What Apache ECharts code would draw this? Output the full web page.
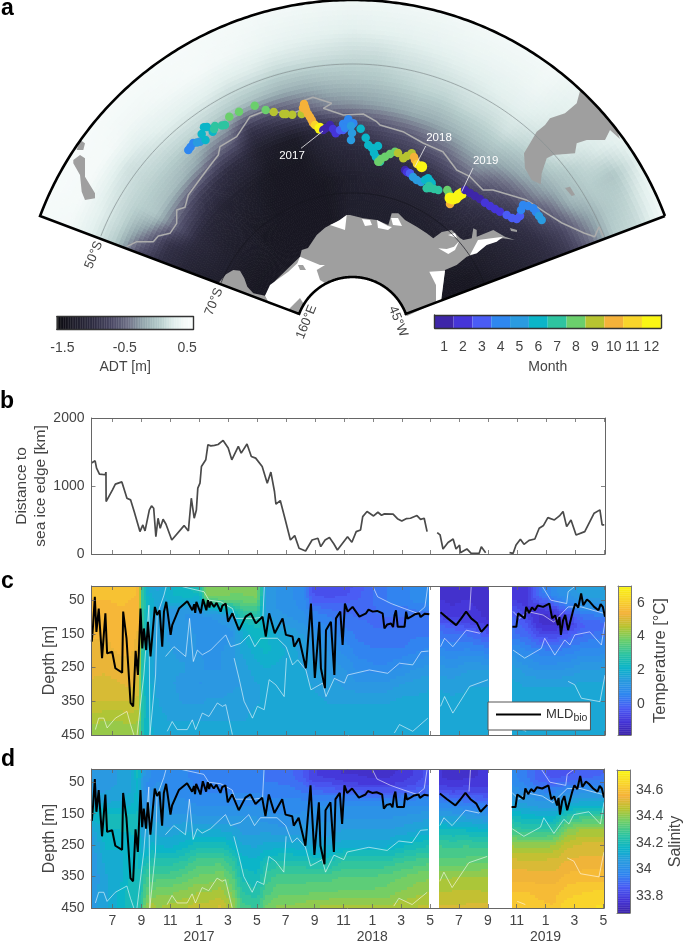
<!DOCTYPE html>
<html><head><meta charset="utf-8">
<style>html,body{margin:0;padding:0;background:#fff}#c{width:685px;height:941px}</style>
<script src="https://cdn.jsdelivr.net/npm/echarts@6/dist/echarts.min.js"></script>
</head><body><div id="c"></div>
<script>
// ---------- DATA ----------
const monthLabels=['1','2','3','4','5','6','7','8','9','10','11','12'];
const monthTicks=[7,9,11,13,15,17,19,21,23,25,27,29,31,33,35,37,39,41];
const yearOfMonthTick={13:'2017',25:'2018',37:'2019'};
const depthTicks=[50,150,250,350,450];
const distanceTicks=[0,1000,2000];
const tempTicks=[0,2,4,6];
const salTicks=[33.8,34,34.2,34.4,34.6];
const adtTicks=[-1.5,-0.5,0.5];

// distance to sea ice edge [month index, km]
const distance=[[5.55,1337],[5.8,1370],[5.9,1263],[6.1,1175],[6.5,1165],[6.55,1204],[6.56,771],[7,943],[7.2,1027],[7.65,1060],[8,820],[8.25,796],[8.5,624],[8.9,330],[9.1,427],[9.25,339],[9.55,650],[9.7,707],[9.85,673],[10,255],[10.15,526],[10.3,378],[10.5,511],[10.7,437],[11.1,206],[11.95,418],[12.25,339],[12.3,467],[12.45,820],[12.65,526],[12.8,648],[12.9,968],[13.05,1042],[13.15,1287],[13.45,1386],[13.6,1607],[13.8,1590],[14.05,1597],[14.3,1610],[14.65,1670],[15,1558],[15.25,1386],[15.7,1582],[15.9,1484],[16.3,1617],[16.6,1435],[16.9,1410],[17.35,1287],[17.7,1042],[17.95,1204],[18.2,919],[18.3,732],[18.6,786],[18.95,501],[19.3,206],[19.6,270],[19.9,84],[20.35,44],[20.8,206],[21.2,231],[21.4,108],[21.7,206],[22,241],[22.3,150],[22.55,59],[23.25,255],[23.55,172],[23.85,329],[24.15,354],[24.3,550],[24.6,624],[25.05,560],[25.35,614],[25.6,570],[25.8,590],[26.4,585],[26.7,520],[27,486],[27.3,520],[27.6,526],[28.05,565],[28.3,510],[28.55,526],[28.75,329],[29.1,null],[29.45,314],[29.65,280],[29.85,74],[30.2,170],[30.55,221],[30.75,74],[31,133],[31.05,20],[31.5,74],[31.8,10],[32.35,10],[32.5,108],[32.8,20],[33.6,null],[34.45,20],[34.7,10],[34.9,133],[35.2,216],[35.45,142],[35.8,200],[36.2,221],[36.5,378],[36.8,420],[37.1,535],[37.55,501],[37.9,560],[38.15,624],[38.4,403],[38.7,501],[39.05,280],[39.65,329],[40.3,600],[40.7,649],[40.85,427],[41,427]];

// biological mixed layer depth [month index, m]
const mld=[[5.57,173],[5.66,124],[5.78,40],[5.89,144],[6.05,75],[6.28,222],[6.51,89],[6.63,208],[6.98,203],[7.2,252],[7.67,265],[7.74,84],[7.97,163],[8.25,355],[8.43,365],[8.6,200],[8.76,272],[8.94,75],[9.06,193],[9.17,134],[9.33,198],[9.45,114],[9.63,217],[9.93,70],[10.09,94],[10.26,80],[10.44,188],[10.56,84],[10.72,55],[11.02,153],[11.13,124],[11.6,75],[12.17,53],[12.52,80],[12.65,62],[12.72,88],[12.8,55],[13.1,89],[13.26,47],[13.49,80],[13.6,50],[13.7,72],[13.79,55],[14.02,70],[14.2,58],[14.48,84],[14.6,66],[14.83,60],[14.99,114],[15.29,89],[15.75,139],[16.21,99],[16.56,89],[16.91,119],[17.37,99],[17.6,158],[17.83,89],[18.22,148],[18.76,104],[18.99,153],[19.45,158],[19.56,188],[19.9,163],[20.37,252],[20.72,60],[20.99,281],[21.3,114],[21.41,252],[21.69,311],[21.76,139],[22.1,114],[22.34,272],[22.45,104],[22.75,84],[22.91,183],[23.07,60],[23.26,84],[23.6,70],[24.07,99],[24.53,89],[24.7,78],[24.99,84],[25.3,82],[25.68,89],[25.8,134],[26,122],[26.26,119],[26.4,130],[26.5,95],[26.6,80],[26.72,129],[27.19,129],[27.3,84],[27.4,105],[27.65,99],[27.9,92],[28.2,89],[28.3,100],[28.43,99],[28.6,90],[28.9,92],[29.3,null],[29.68,86],[30.18,104],[30.76,124],[31.1,105],[31.45,84],[31.8,104],[32.2,118],[32.5,144],[32.96,122],[33.8,null],[34.65,129],[34.92,129],[35.04,89],[35.5,104],[35.6,70],[35.8,88],[36,72],[36.2,80],[36.4,66],[36.77,70],[37.2,60],[37.4,104],[37.6,95],[37.8,124],[37.9,100],[38,153],[38.15,110],[38.3,94],[38.5,139],[38.85,80],[39,60],[39.2,72],[39.4,30],[39.55,65],[39.8,48],[40,55],[40.3,70],[40.6,80],[40.75,62],[40.9,70],[41.05,99]];

// isopycnals [month index, m]
const isoA=[[11.83,10],[13.33,25],[13.67,50],[14.5,55],[15.3,75],[15.5,104],[16.8,104],[17.4,100],[17.5,8],[17.55,null],[24.99,8],[25.33,40],[26.26,60],[27.19,75],[28.1,89],[28.6,70],[28.8,8],[29.2,null],[31.7,80],[31.8,10],[32,null],[34.7,84],[35.15,104],[35.7,84],[36.77,94],[37.5,115],[38.5,70],[39.4,70],[41.05,90]];
const isoB=[[36.7,8],[37.3,50],[38.4,60],[38.5,25],[39,8]];
const isoC=[[10.67,217],[11.25,188],[12.06,217],[12.33,104],[12.59,232],[12.87,198],[13.21,212],[13.79,198],[14.25,178],[14.83,153],[15.18,188],[15.87,178],[16.45,153],[16.84,188],[17.25,163],[17.72,163],[18.4,163],[19,188],[19.45,242],[19.8,227],[20.37,257],[20.72,316],[21.53,296],[21.76,336],[22.34,282],[23.03,296],[23.26,272],[24.76,257],[26.03,267],[26.84,237],[27.76,242],[28.34,203],[28.85,201],[29.2,null],[29.68,188],[29.96,163],[30.53,188],[31.46,139],[32.38,148],[32.96,124],[33.8,null],[34.69,198],[35.5,222],[36.65,193],[36.88,163],[37.58,213],[38.27,168],[38.62,183],[38.96,153],[40,144],[40.8,183],[41.05,114]];
const isoD=[[15.41,222],[15.75,282],[16.1,350],[16.68,400],[17.02,365],[17.49,375],[17.83,286],[18.29,301],[18.87,336],[19.03,222],[19.2,null],[29.68,365],[29.96,336],[30.53,385],[31.69,306],[32.96,286],[33.8,null],[38.5,291],[38.96,301],[39.42,341],[40.7,351],[41.05,272]];
const isoE=[[5.82,434],[6.05,400],[6.4,400],[6.63,429],[7.2,400],[8,380],[8.25,419],[8.48,450],[8.6,null],[10.79,439],[11.13,410],[11.48,434],[12.17,434],[12.52,405],[12.75,434],[13.21,385],[13.67,395],[14.25,355],[14.6,365],[14.83,360],[15.29,449],[15.4,null],[26.49,444],[26.84,419],[27.76,439],[28.8,400],[29.2,null],[35.04,429],[35.6,439]];
const isoF=[[8.7,450],[9.17,272],[9.52,65],[9.59,450],[9.98,272],[10.09,94],[10.56,35],[10.72,8]];

// depth sections
const fieldDepths=[8,30,50,75,100,125,150,200,250,300,350,400,450];
const fieldMonths=[5.55,6.5,7.5,8.3,8.8,9,9.3,9.7,10.2,11,12,13,13.5,14.5,15.3,16,17,17.6,18.5,19.5,20.4,20.8,22,23,24,25,26,27,28,28.9,null,29.65,30.5,31.5,32.5,33,null,34.65,35.5,36.5,37.5,38.5,39.5,40.5,41.05];
const tempColumns=[
[5.7,5.7,5.6,5.6,5.5,5.5,5.4,5.3,5.2,5.1,4.9,4.5,4.2],
[5.8,5.8,5.6,5.5,5.5,5.4,5.4,5.3,5.2,5,4.9,4.4,4.1],
[5.8,5.7,5.7,5.6,5.6,5.5,5.5,5.4,5.3,5.1,4.9,4.4,4.2],
[5.7,5.7,5.6,5.6,5.6,5.5,5.5,5.4,5.3,5.2,4.9,4.5,4.2],
[5.6,5.6,5.5,5.5,5.4,5.4,5.3,5.2,5.2,5,4.8,4.4,4.1],
[3.5,3.4,3.3,3.3,3.2,3.2,3.2,3.1,3.1,3,3,2.9,2.8],
[2,2.1,2.4,2.4,2.3,2.3,2.3,2.2,2.1,2.1,2.2,2.2,2.2],
[1.6,1.8,2,2,1.7,1.6,1.6,1.7,1.7,1.8,1.8,1.9,1.9],
[1.5,1.7,1.6,1.6,1.5,1.5,1.5,1.5,1.5,1.5,1.6,1.7,1.8],
[2,2.1,2,1.4,1.2,1.3,1.3,1.4,1.4,1.4,1.5,1.6,1.7],
[2.3,2.3,2,1.3,1.1,1.2,1.2,1.3,1.4,1.3,1.3,1.6,1.7],
[2.5,2.4,1.8,1.2,1,1,1.1,1.1,1.2,1.1,1.3,1.6,1.7],
[4,4,3.4,1.9,1.1,1,1,1.1,1.1,1.2,1.4,1.6,1.7],
[4.1,4,3.6,2.1,1.2,1.1,1,1.1,1.1,1.2,1.4,1.6,1.7],
[4,3.9,3.6,2.6,1.6,1.2,1.1,1.3,1.3,1.3,1.5,1.6,1.7],
[4,3.9,3.7,3.2,2.7,2.2,1.9,1.7,1.5,1.4,1.5,1.6,1.7],
[4,4,3.8,3.3,2.8,2.5,2.3,2,1.8,1.6,1.6,1.7,1.7],
[1.3,1.3,1.2,1.3,1.5,1.9,2.2,2.2,1.9,1.7,1.7,1.7,1.7],
[1.1,1.1,1.1,1.1,1.2,1.5,1.8,2,1.8,1.7,1.7,1.7,1.8],
[0.9,0.9,0.9,1,1.1,1.3,1.5,1.7,1.7,1.7,1.7,1.7,1.8],
[0.6,0.5,0.6,0.7,0.9,1.1,1.3,1.5,1.6,1.7,1.7,1.7,1.7],
[-0.5,-0.4,-0.2,0.3,0.6,0.8,1,1.3,1.5,1.6,1.7,1.7,1.7],
[-0.6,-0.5,-0.3,0.1,0.4,0.6,0.8,1.1,1.3,1.5,1.6,1.7,1.7],
[-0.5,-0.5,-0.2,0,0.2,0.3,0.5,0.8,1.1,1.3,1.6,1.7,1.7],
[-0.3,-0.2,-0.1,0,0.1,0.2,0.3,0.5,0.8,1.2,1.6,1.7,1.75],
[0.1,0.1,0.1,0.1,0.1,0.1,0.2,0.4,0.7,1.2,1.6,1.75,1.75],
[0.4,0.4,0.4,0.3,0.1,0.1,0.2,0.4,0.7,1.2,1.6,1.75,1.75],
[0.5,0.5,0.5,0.3,0.1,0.1,0.2,0.4,0.9,1.4,1.7,1.75,1.75],
[0.7,0.7,0.7,0.4,0.2,0.2,0.3,0.6,1.1,1.5,1.7,1.75,1.75],
[0.8,0.9,0.8,0.5,0.2,0.2,0.3,0.7,1.2,1.6,1.7,1.75,1.75],
null,
[-1.2,-1.2,-1.1,-1,-0.7,-0.1,0.2,0.7,1.2,1.6,1.7,1.75,1.75],
[-1.3,-1.3,-1.2,-1.1,-0.9,-0.3,0.1,0.6,1.1,1.5,1.7,1.75,1.75],
[-1.2,-1.2,-1.1,-1,-0.8,-0.5,0.1,0.7,1.3,1.6,1.7,1.75,1.75],
[-1.3,-1.3,-1.3,-1.2,-1.1,-0.8,-0.2,0.6,1.3,1.6,1.7,1.75,1.75],
[-1.3,-1.3,-1.3,-1.3,-1.2,-0.9,-0.3,0.5,1.3,1.6,1.7,1.75,1.75],
null,
[-0.9,-0.9,-0.9,-0.4,-0.1,0.1,0.2,0.9,1.5,1.7,1.75,1.75,1.75],
[-1.1,-1.1,-1,-0.9,-0.6,-0.2,0,0.7,1.2,1.6,1.75,1.75,1.75],
[0.2,0.2,-0.3,-1,-1.2,-1.1,-0.6,0.5,1,1.6,1.75,1.75,1.75],
[0.8,0.8,0.3,-0.6,-1.2,-1.2,-0.7,0.4,1,1.6,1.75,1.75,1.75],
[1.2,1.1,0.8,0.1,-0.6,-0.9,-0.3,0.5,1.1,1.6,1.75,1.75,1.75],
[1.5,1.5,1.2,0.8,0.2,-0.2,0.1,0.7,1.3,1.7,1.75,1.75,1.75],
[1.6,1.5,1.3,0.9,0.3,-0.1,0.2,0.7,1.3,1.7,1.75,1.75,1.75],
[1.6,1.6,1.4,1,0.4,0,0.3,0.8,1.4,1.7,1.75,1.75,1.75]];
const salColumns=[
[34.05,34.05,34.05,34.06,34.08,34.12,34.18,34.08,34.05,34.04,34.04,34.05,34.06],
[34.05,34.05,34.05,34.07,34.08,34.12,34.18,34.18,34.15,34.12,34.1,34.1,34.1],
[34.08,34.08,34.08,34.08,34.1,34.13,34.18,34.18,34.15,34.13,34.13,34.15,34.16],
[34.1,34.1,34.1,34.1,34.12,34.14,34.18,34.18,34.17,34.17,34.18,34.2,34.2],
[34.2,34.2,34.18,34.18,34.18,34.18,34.18,34.18,34.18,34.18,34.18,34.2,34.2],
[34.12,34.1,34.08,34.08,34.08,34.08,34.08,34.1,34.12,34.15,34.2,34.22,34.25],
[34.02,34.02,34,34,34,34.02,34.04,34.08,34.12,34.2,34.28,34.33,34.4],
[34,34,34,34,34.02,34.04,34.06,34.1,34.15,34.22,34.3,34.36,34.45],
[34,34,34,34.02,34.02,34.04,34.06,34.08,34.14,34.22,34.3,34.38,34.42],
[33.98,33.98,34,34,34,34.02,34.04,34.08,34.13,34.22,34.3,34.38,34.44],
[33.97,33.97,33.98,33.98,34,34.02,34.04,34.1,34.16,34.25,34.33,34.4,34.46],
[33.95,33.95,33.96,33.97,33.98,34,34.03,34.1,34.2,34.3,34.36,34.42,34.48],
[33.95,33.95,33.95,33.96,33.98,34,34.02,34.1,34.2,34.3,34.36,34.42,34.48],
[33.94,33.95,33.95,33.96,33.98,34,34.02,34.1,34.2,34.3,34.38,34.44,34.5],
[33.95,33.95,33.95,33.96,33.98,34,34.03,34.09,34.16,34.26,34.32,34.38,34.44],
[33.95,33.95,33.95,33.96,33.98,34,34.03,34.06,34.11,34.16,34.2,34.25,34.3],
[33.95,33.95,33.95,33.96,33.98,34,34.03,34.06,34.1,34.15,34.18,34.22,34.28],
[33.93,33.93,33.93,33.95,33.97,33.99,34.01,34.06,34.12,34.2,34.26,34.3,34.36],
[33.92,33.92,33.93,33.95,33.97,33.99,34,34.05,34.12,34.22,34.3,34.34,34.4],
[33.9,33.9,33.92,33.94,33.97,33.99,34,34.05,34.12,34.22,34.3,34.34,34.4],
[33.85,33.85,33.88,33.92,33.96,33.99,34.01,34.05,34.11,34.21,34.3,34.34,34.42],
[33.8,33.8,33.83,33.9,33.96,34,34.02,34.05,34.1,34.2,34.3,34.35,34.42],
[33.78,33.78,33.82,33.88,33.96,34,34.02,34.05,34.1,34.2,34.3,34.35,34.44],
[33.75,33.76,33.8,33.86,33.95,34,34.02,34.07,34.13,34.25,34.32,34.36,34.43],
[33.75,33.76,33.78,33.85,33.95,34,34.02,34.07,34.13,34.25,34.32,34.36,34.43],
[33.74,33.75,33.77,33.84,33.94,34,34.02,34.07,34.13,34.25,34.32,34.36,34.43],
[33.74,33.75,33.77,33.84,33.94,34,34.02,34.07,34.13,34.25,34.33,34.37,34.43],
[33.76,33.77,33.79,33.85,33.95,34,34.03,34.08,34.16,34.27,34.35,34.39,34.45],
[33.8,33.8,33.82,33.87,33.96,34.01,34.04,34.1,34.19,34.29,34.37,34.41,34.46],
[33.85,33.85,33.86,33.89,33.96,34.01,34.05,34.12,34.21,34.3,34.38,34.42,34.47],
null,
[33.76,33.76,33.78,33.83,33.93,33.98,34.05,34.18,34.28,34.33,34.41,34.46,34.5],
[33.74,33.74,33.76,33.81,33.91,33.98,34.05,34.17,34.27,34.33,34.42,34.46,34.5],
[33.75,33.75,33.77,33.82,33.9,33.96,34.04,34.17,34.28,34.33,34.42,34.47,34.5],
[33.76,33.76,33.77,33.8,33.88,33.95,34.02,34.15,34.27,34.34,34.42,34.46,34.51],
[33.78,33.78,33.78,33.8,33.87,33.94,34.01,34.15,34.27,34.34,34.43,34.46,34.51],
null,
[33.98,33.98,33.99,34.02,34.06,34.1,34.17,34.28,34.42,34.5,34.55,34.6,34.62],
[33.95,33.95,33.96,34,34.05,34.08,34.15,34.25,34.4,34.5,34.55,34.6,34.62],
[33.88,33.88,33.9,33.96,34.03,34.06,34.13,34.25,34.4,34.5,34.54,34.59,34.61],
[33.85,33.85,33.88,33.95,34.02,34.05,34.12,34.25,34.42,34.5,34.54,34.58,34.6],
[33.85,33.86,33.9,33.98,34.05,34.12,34.2,34.38,34.48,34.53,34.57,34.62,34.66],
[33.87,33.88,33.93,34,34.08,34.15,34.25,34.42,34.5,34.54,34.58,34.63,34.66],
[33.88,33.89,33.95,34,34.08,34.15,34.25,34.42,34.5,34.54,34.58,34.64,34.67],
[33.9,33.9,33.96,34.01,34.08,34.15,34.25,34.42,34.5,34.54,34.58,34.64,34.67]];

// absolute dynamic topography on the map: one row of radial samples per meridian
const adtRadii=[57,80,105,130,155,180,205,230,255,280,305,334];
const adtColumns=[
[-1.4,-1.4,-1.4,-1.35,-1.3,-1.2,-1,-0.7,0.05,0.3,0.45,0.48],
[-1.4,-1.4,-1.4,-1.35,-1.25,-1.15,-0.95,-0.35,0.1,0.3,0.48,0.5],
[-1.4,-1.4,-1.4,-1.35,-1.25,-1.1,-0.6,0,0.1,0.25,0.48,0.5],
[-1.4,-1.4,-1.4,-1.35,-1.3,-1.15,-0.7,-0.05,0.1,0.2,0.47,0.5],
[-1.4,-1.4,-1.4,-1.35,-1.3,-1.2,-0.85,-0.1,0.1,0.25,0.42,0.5],
[-1.4,-1.4,-1.4,-1.4,-1.35,-1.25,-0.95,-0.2,0.1,0.3,0.42,0.5],
[-1.4,-1.4,-1.4,-1.4,-1.35,-1.3,-1.05,-0.4,0.1,0.3,0.45,0.5],
[-1.4,-1.4,-1.4,-1.4,-1.4,-1.35,-1.1,-0.5,0.05,0.3,0.47,0.5],
[-1.4,-1.4,-1.4,-1.4,-1.4,-1.4,-1.3,-0.9,0,0.25,0.45,0.48],
[-1.4,-1.4,-1.4,-1.4,-1.4,-1.4,-1.35,-0.8,-0.05,0.25,0.42,0.47],
[-1.4,-1.4,-1.4,-1.4,-1.4,-1.4,-1.35,-0.65,-0.1,0.2,0.38,0.45],
[-1.35,-1.35,-1.4,-1.4,-1.4,-1.3,-1.15,-0.5,-0.1,0.2,0.35,0.44],
[-1.3,-1.3,-1.35,-1.35,-1.35,-1.2,-1,-0.35,-0.05,0.18,0.33,0.43],
[-1.3,-1.3,-1.3,-1.3,-1.3,-1.15,-0.9,-0.3,-0.02,0.15,0.3,0.42],
[-1.3,-1.3,-1.3,-1.3,-1.25,-1.1,-0.8,-0.25,0,0.15,0.32,0.42],
[-1.3,-1.3,-1.3,-1.3,-1.25,-1.05,-0.7,-0.2,0.05,0.2,0.33,0.43],
[-1.3,-1.3,-1.3,-1.3,-1.2,-1,-0.65,-0.15,0.1,0.22,0.35,0.43],
[-1.3,-1.3,-1.3,-1.3,-1.2,-1,-0.55,-0.15,0.1,0.25,0.37,0.44],
[-1.35,-1.35,-1.35,-1.3,-1.2,-0.95,-0.5,-0.1,0.15,0.27,0.38,0.45],
[-1.4,-1.4,-1.35,-1.3,-1.2,-0.9,-0.4,-0.05,0.15,0.3,0.38,0.45],
[-1.4,-1.4,-1.35,-1.3,-1.15,-0.85,-0.35,-0.05,0.2,0.3,0.4,0.45],
[-1.4,-1.4,-1.4,-1.3,-1.15,-0.9,-0.55,-0.15,0.1,0.25,0.3,0.38],
[-1.4,-1.4,-1.4,-1.3,-1.2,-1,-0.7,-0.25,0.05,0.3,0.3,0.3],
[-1.4,-1.4,-1.4,-1.35,-1.25,-1.05,-0.85,-0.35,-0.05,0.1,0.25,0.35],
[-1.4,-1.4,-1.4,-1.35,-1.3,-1.15,-0.95,-0.6,-0.1,0.05,0,0.3],
[-1.4,-1.4,-1.4,-1.4,-1.3,-1.2,-1.05,-0.8,-0.35,0,0.1,0.4],
[-1.45,-1.45,-1.4,-1.4,-1.35,-1.25,-1.1,-0.9,-0.5,0.05,0.15,0.45]];

// map geometry, in projected map units
const landAntarctica=[[300,256.7],[301.7,250],[308,248],[316.7,235],[325,227.7],[330,225],[335,223.3],[346.7,215],[350,215],[363.3,218.3],[376.7,220],[388.3,225],[391.7,213.3],[398.3,213.3],[405,220],[416.7,226.7],[426.7,233.3],[433.3,238.3],[441.7,232],[451.7,230],[460,238],[463.3,240],[471.7,238.3],[473.3,228.3],[476.7,230],[476.7,236.7],[493.3,230],[505,236.7],[515,240],[503,238.3],[486.7,243.3],[476.7,253.3],[466.7,256.7],[456.7,265],[445,270],[441,300],[437,302],[407,316],[352,290],[298,315],[288,310],[269,304],[265,296],[276,280]];
const landVictoria=[[218.3,283.3],[226,274.3],[233.3,270],[240,270.7],[244.3,278.3],[247.3,286.7],[253.3,293.3],[265,295.7],[269.3,303.7]];
const landSouthAmerica=[[580,91],[576.7,103.3],[565,113.3],[550,118.3],[545,125],[536.7,131.7],[530,143.3],[524,153.3],[525,168.3],[531.7,180],[540.7,184.3],[541.7,173.3],[546.7,158.3],[553.3,155],[575,153.3],[576.7,143.3],[586.7,140],[605,140],[610,130],[620,139],[617,131],[600,110]];
const landFalkland=[[565,188],[570,186.7],[575,195],[571.7,196]];
const landNewZealandS=[[73.3,160],[80,155],[85,158.3],[85,176.7],[95,193.3],[95,198.3],[85,200],[81.7,191.7],[80,175],[73.3,163.3]];
const landNewZealandN=[[76.7,150],[80,140],[85,143.3],[83.3,150]];
const landIslet=[[510,228],[517,230],[517,232],[511,231]];
const shelfRoss=[[269.3,303.7],[265,295.7],[270,285],[276.7,280],[288.3,271.7],[297.3,263.3],[300,256.7],[320,265],[325,265],[316.7,270],[320,280],[328.3,285],[340,288],[325,300],[305,306],[300,298],[288,310]];
const shelfRonne=[[438.3,248.3],[448.3,254],[455,250],[459.3,241],[454,246.7],[446.7,249]];
const shelfLarsen=[[470,255],[478,240],[503,236.7],[496.7,241.7],[486.7,245],[476.7,253.3]];
const shelfStrip=[[429.3,271.7],[445,270.7],[441,301.7],[436,303.3],[436,285]];
const shelfCoast1=[[330,225],[340,220],[346.7,215],[345,230]];
const shelfCoast2=[[362,219],[370,220],[372,225],[365,226]];
const shelfCoast3=[[377,220],[388,226],[392,227],[388,230],[378,228]];
const shelfCoast4=[[391,218],[398,218],[402,226],[393,225]];
const shelfWeddellTop=[[448,235],[455,233],[457,238]];
const holeRoss=[[298,265],[303,265],[306,270],[300,270]];
const iceFront=[[126.7,246.7],[136.7,241.7],[153.3,241.7],[158.3,236],[170,233.3],[176.7,223.3],[176.7,210],[185,207.3],[188.3,195],[206.7,170],[218.3,155],[220,146.7],[236.7,136.7],[250,116.7],[263,111.7],[293,113],[301.7,110],[305,100],[313,97.3],[331.7,103.3],[323.3,108.3],[343.3,115],[363.3,114],[376.7,121.7],[380,125],[403,131.7],[423,143],[443,151.7],[456.7,170],[470,176.7],[483,190],[493,190],[526.7,200],[546.7,213.3],[562,223],[584,233],[594.7,236.7],[599,226.7],[603.4,236.7]];

// float track [map x, map y, month]
const track=[[188.3,150,4],[190.5,147,4],[193.3,143,4],[197,142.5,5],[200,141.7,5],[205.5,140,6],[201.7,134,6],[204,127.3,6],[207,127,6],[212.7,131.7,6],[214,129,7],[215,126,7],[222,125.5,7],[225,125,7],[229.3,116.7,8],[239,111.7,8],[254.7,105.7,8],[265.7,110,8],[273.7,112,9],[283.3,114,9],[286,114,9],[292.3,114.7,9],[301.7,114,9],[304,104,10],[303,108,10],[305,107,10],[306,110,10],[308,114,10],[310,117,10],[311.7,120,10],[313,123,10],[315,125,11],[318,127,11],[320,128.3,12],[323.3,130,1],[326,128,1],[330,125,1],[333,129,2],[335.7,133.3,2],[338,131,2],[340,130,3],[343,130,3],[345,128,3],[343,124,4],[348.3,119.3,4],[353.3,123.3,4],[347,122,4],[345,128,4],[351,126,5],[352,133,5],[351,140,5],[360.7,128.7,6],[365.7,137.7,6],[368.3,145,6],[372,148,6],[378,146,6],[374,153,6],[376,157,6],[380,161.7,7],[378.3,161.7,8],[381,159,8],[385,156.7,8],[390,154,8],[395,151.7,8],[398,153,9],[403.3,158.3,9],[407,156,9],[411.7,153.3,9],[414,157,10],[415,160,10],[417,164,11],[421.7,166.7,12],[405,170,1],[407,172,2],[410,173.3,3],[413,177,5],[416.7,180,5],[421,182,5],[425,180,6],[428,178.3,6],[430,181,6],[431.7,183.3,6],[429,186,7],[426.7,188.3,7],[430,188,7],[434,189,7],[438.3,190,7],[447.3,190,8],[449,194,8],[450,204,10],[451,201,10],[450,198,12],[453,199,12],[456,198,12],[459,195,12],[461.7,193.3,12],[465,190,1],[470,193,1],[475,196,1],[480,199,1],[485,202.7,2],[490,206,2],[495,209,2],[500,211.7,2],[506.7,215,3],[512,218,3],[516.7,219,3],[520,216,3],[521,210,4],[523,205,4],[528,206,4],[533.3,208.3,4],[536,212,4],[539,216,5],[541.7,220,5]];
const yearNames=['2017','2018','2019'];
const yearLabelPos=[[292,156],[439,138],[485.7,161]];
const yearLeaders=[[[301,148.3],[323,131]],[[425.7,146],[415,166.7]],[[473,168],[461.7,191.7]]];
const gratNames=['50°S','70°S','160°E','45°W'];
const gratPos=[[93.8,255],[214,301.7],[306.5,322],[398,321.5]];
const gratRadii=[270,141];

// ---------- STYLE / HELPERS ----------
const FONT='"Liberation Sans",Arial,sans-serif', TXT='#444';
const PARULA=['#3E26A8','#4535D8','#4A5CF5','#2F87F0','#2A9BE0','#0BB5C8','#2EC4A0','#6BCF6C','#B7C430','#F5B23A','#F9D52B','#FAF614'];
const ADT_STOPS=[[-1.6,'#08080c'],[-1.3,'#201f2d'],[-1,'#302e44'],[-0.7,'#4c4a66'],[-0.45,'#6f7187'],[-0.2,'#94a8ae'],[0.05,'#b5cccb'],[0.3,'#e3f0ee'],[0.45,'#f3f9f8'],[0.6,'#fcfefe']];
const hex=h=>[1,3,5].map(i=>parseInt(h.substr(i,2),16));
const mix=(a,b,t)=>{const A=hex(a),B=hex(b);return 'rgb('+A.map((v,i)=>Math.round(v+(B[i]-v)*t)).join(',')+')';};
function parula(t){t=Math.max(0,Math.min(1,t))*(PARULA.length-1);const i=Math.min(PARULA.length-2,Math.floor(t));return mix(PARULA[i],PARULA[i+1],t-i);}
function adtColor(v){for(let i=0;i<ADT_STOPS.length-1;i++){if(v<=ADT_STOPS[i+1][0]){const a=ADT_STOPS[i],b=ADT_STOPS[i+1];return mix(a[1],b[1],Math.max(0,(v-a[0])/(b[0]-a[0])));}}return ADT_STOPS[ADT_STOPS.length-1][1];}
const T_RANGE=[-1.85,7], S_RANGE=[33.67,34.75], TH0=159.3, TH1=20.7, POLE=[352.5,334], R0=57, R1=334;
const tempColor=v=>parula((Math.round(v/0.25)*0.25-T_RANGE[0])/(T_RANGE[1]-T_RANGE[0]));
const salColor=v=>parula((Math.round(v/0.035)*0.035-S_RANGE[0])/(S_RANGE[1]-S_RANGE[0]));
const polar=(r,deg)=>[POLE[0]+r*Math.cos(deg*Math.PI/180),POLE[1]-r*Math.sin(deg*Math.PI/180)];

const grids=[],xAxes=[],yAxes=[],series=[];
function addGrid(rect,xo,yo,opt){
  opt=opt||{};const g=grids.length;grids.push(Object.assign({containLabel:false,outerBoundsMode:'none'},rect));
  const line={show:opt.line!==false,onZero:false,lineStyle:{color:opt.lineColor||'#666',width:opt.lineWidth||1}};
  const lab={show:true,color:TXT,fontFamily:FONT,fontSize:14};
  const mk=(o,pos,main)=>{const vals=o.vals;const a=Object.assign({type:'value',gridIndex:g,position:pos,min:o.min,max:o.max,inverse:!!o.inverse,z:10,splitLine:{show:false},scale:true,axisLine:line,nameMoveOverlap:false,
    axisTick:{show:!!vals&&!o.noTick,inside:true,length:4,lineStyle:{color:'#666',width:0.8},customValues:vals||[]},
    axisLabel:(main&&vals&&o.labels!==false)?Object.assign({},lab,{customValues:vals,margin:o.margin===undefined?7:o.margin,formatter:o.fmt||undefined,lineHeight:o.lineHeight||undefined}):{show:false}},main?(o.extra||{}):{});return a;};
  const xi=xAxes.length;xAxes.push(mk(xo,'bottom',true));xAxes.push(mk(xo,'top',false));
  const yi=yAxes.length;yAxes.push(mk(yo,opt.yPos||'left',true));yAxes.push(mk(yo,opt.yPos==='right'?'left':'right',false));
  return {xAxisIndex:xi,yAxisIndex:yi};
}
const nameStyle=(fs)=>({color:TXT,fontFamily:FONT,fontSize:fs,lineHeight:19});
const polyline=(ax,list,style,z)=>series.push(Object.assign({type:'line',data:list,symbol:'none',silent:true,animation:false,connectNulls:false,lineStyle:style,z:z||5},ax));
function polygonSeries(ax,list,fill,z){
  series.push(Object.assign({type:'custom',silent:true,animation:false,clip:false,z:z,progressive:0,data:list.map((_,i)=>[i]),
    renderItem:(p,api)=>({type:'polygon',shape:{points:list[p.dataIndex].map(c=>api.coord(c))},style:{fill:fill}})},ax));
}
// depth section field
function sectionSeries(ax,columns,colorFn){
  const cells=[];
  for(let i=0;i<fieldMonths.length-1;i++){if(fieldMonths[i]===null||fieldMonths[i+1]===null)continue;for(let j=0;j<fieldDepths.length-1;j++)cells.push([i,j]);}
  series.push(Object.assign({type:'custom',silent:true,animation:false,clip:true,z:2,progressive:0,data:cells,
    renderItem:(p,api)=>{
      const c=cells[p.dataIndex],i=c[0],j=c[1],x0=fieldMonths[i],x1=fieldMonths[i+1],y0=fieldDepths[j],y1=fieldDepths[j+1];
      const a=api.coord([x0,y0]),b=api.coord([x1,y1]);
      const nx=Math.max(1,Math.ceil((b[0]-a[0])/3)),ny=Math.max(1,Math.ceil((b[1]-a[1])/3));
      const ch=[];
      for(let u=0;u<nx;u++)for(let v=0;v<ny;v++){
        const s=(u+.5)/nx,t=(v+.5)/ny;
        const val=(1-s)*((1-t)*columns[i][j]+t*columns[i][j+1])+s*((1-t)*columns[i+1][j]+t*columns[i+1][j+1]);
        const xa=Math.round(a[0]+(b[0]-a[0])*u/nx),xb=Math.round(a[0]+(b[0]-a[0])*(u+1)/nx),ya=Math.round(a[1]+(b[1]-a[1])*v/ny),yb=Math.round(a[1]+(b[1]-a[1])*(v+1)/ny);
        ch.push({type:'rect',shape:{x:xa,y:ya,width:xb-xa,height:yb-ya},style:{fill:colorFn(val)}});
      }
      return {type:'group',children:ch};
    }},ax));
}
function stripSeries(ax,range,horizontal,colorFn){
  const n=80,d=[];for(let i=0;i<n;i++)d.push([i]);
  series.push(Object.assign({type:'custom',silent:true,animation:false,clip:true,z:2,progressive:0,data:d,
    renderItem:(p,api)=>{const i=p.dataIndex,v0=range[0]+(range[1]-range[0])*i/n,v1=range[0]+(range[1]-range[0])*(i+1)/n,cs=p.coordSys;
      const col=colorFn((v0+v1)/2);
      if(horizontal){const a=api.coord([v0,0])[0],b=api.coord([v1,0])[0];return {type:'rect',shape:{x:a,y:cs.y,width:b-a,height:cs.height},style:{fill:col,stroke:col,lineWidth:.4}};}
      const a=api.coord([0,v0])[1],b=api.coord([0,v1])[1];return {type:'rect',shape:{x:cs.x,y:b,width:cs.width,height:a-b},style:{fill:col,stroke:col,lineWidth:.4}};
    }},ax));
}

// ---------- PANEL a ----------
const mapAx=addGrid({left:0,top:0,width:685,height:380},{min:0,max:685},{min:0,max:380,inverse:true},{line:false});
xAxes[mapAx.xAxisIndex].show=false;xAxes[mapAx.xAxisIndex+1].show=false;yAxes[mapAx.yAxisIndex].show=false;yAxes[mapAx.yAxisIndex+1].show=false;
(function(){
  const nC=adtColumns.length,nR=adtRadii.length,cells=[];
  for(let i=0;i<nC-1;i++)for(let j=0;j<nR-1;j++)cells.push([i,j]);
  series.push(Object.assign({type:'custom',silent:true,animation:false,clip:false,z:2,progressive:0,data:cells,
    renderItem:(p,api)=>{
      const c=cells[p.dataIndex],i=c[0],j=c[1],dT=(TH0-TH1)/(nC-1),ch=[],nu=6,nv=6;
      for(let u=0;u<nu;u++)for(let v=0;v<nv;v++){
        const s0=u/nu,s1=(u+1)/nu,t0=v/nv,t1=(v+1)/nv,sm=(s0+s1)/2,tm=(t0+t1)/2;
        const th=s=>TH0-(i+s)*dT,rr=t=>adtRadii[j]+(adtRadii[j+1]-adtRadii[j])*t;
        const val=(1-sm)*((1-tm)*adtColumns[i][j]+tm*adtColumns[i][j+1])+sm*((1-tm)*adtColumns[i+1][j]+tm*adtColumns[i+1][j+1]);
        const col=adtColor(val);
        ch.push({type:'polygon',shape:{points:[polar(rr(t0),th(s0)),polar(rr(t0),th(s1)),polar(rr(t1),th(s1)),polar(rr(t1),th(s0))].map(q=>api.coord(q))},style:{fill:col,stroke:col,lineWidth:.8}});
      }
      return {type:'group',children:ch};
    }},mapAx));
})();
polygonSeries(mapAx,[landAntarctica,landVictoria,landSouthAmerica,landFalkland,landNewZealandS,landNewZealandN,landIslet],'#9f9f9f',3);
polygonSeries(mapAx,[shelfRoss,shelfRonne,shelfLarsen,shelfStrip,shelfCoast1,shelfCoast2,shelfCoast3,shelfCoast4,shelfWeddellTop],'#ffffff',4);
polygonSeries(mapAx,[holeRoss],'#9f9f9f',4);
// graticule, frame
series.push(Object.assign({type:'custom',silent:true,animation:false,clip:false,z:5,progressive:0,data:gratRadii.map((_,i)=>[i]),
  renderItem:(p,api)=>{const pts=[];for(let a=TH1;a<=TH0+.01;a+=1)pts.push(api.coord(polar(gratRadii[p.dataIndex],a)));
    return {type:'polyline',shape:{points:pts},style:{fill:'none',stroke:p.dataIndex?'#16161e':'#858f90',lineWidth:.7}};}},mapAx));
polyline(mapAx,iceFront,{color:'#adadad',width:1.5},5);
series.push(Object.assign({type:'custom',silent:true,animation:false,clip:false,z:6,progressive:0,data:[[0]],
  renderItem:(p,api)=>{const inner=[],outer=[];for(let a=TH1;a<=TH0+.01;a+=.6){inner.push(polar(R0,a));outer.push(polar(R1,a));}
    const wedge=inner.concat([POLE]).map(q=>api.coord(q));
    const ring=outer.concat(inner.slice().reverse());ring.push(outer[0]);
    return {type:'group',children:[{type:'polygon',shape:{points:wedge},style:{fill:'#fff'}},
      {type:'polyline',shape:{points:ring.map(q=>api.coord(q))},style:{fill:'none',stroke:'#000',lineWidth:2.6,lineJoin:'miter'}}]};}},mapAx));
series.push(Object.assign({type:'scatter',data:track,silent:true,animation:false,z:7,
  symbolSize:d=>(d[2]===12?11:8.5),itemStyle:{opacity:1,color:p=>PARULA[p.data[2]-1]}},mapAx));
yearLeaders.forEach(l=>polyline(mapAx,l,{color:'#f4f4f4',width:.8},8));
series.push(Object.assign({type:'custom',silent:true,animation:false,clip:false,z:9,progressive:0,data:yearNames.map((_,i)=>[i]),
  renderItem:(p,api)=>{const c=api.coord(yearLabelPos[p.dataIndex]);return {type:'text',x:c[0],y:c[1],style:{text:yearNames[p.dataIndex],fill:'#fff',font:'11.5px '+FONT,align:'center',verticalAlign:'middle'}};}},mapAx));
const gratRot=[68,68,68,-68];
series.push(Object.assign({type:'custom',silent:true,animation:false,clip:false,z:9,progressive:0,data:gratNames.map((_,i)=>[i]),
  renderItem:(p,api)=>{const c=api.coord(gratPos[p.dataIndex]);return {type:'text',x:c[0],y:c[1],rotation:gratRot[p.dataIndex]*Math.PI/180,style:{text:gratNames[p.dataIndex],fill:TXT,font:'13px '+FONT,align:'center',verticalAlign:'middle'}};}},mapAx));

// colour bars of a
const adtAx=addGrid({left:56.8,top:316.7,width:136.6,height:12.6},
  {min:-1.59,max:0.6,vals:adtTicks,noTick:true,margin:12,extra:{name:'ADT [m]',nameLocation:'middle',nameGap:28,nameTextStyle:nameStyle(14)}},{min:0,max:1},{lineColor:'#333',lineWidth:1.4});
stripSeries(adtAx,[-1.59,0.6],true,adtColor);
const monthVals=monthLabels.map(Number);
const monAx=addGrid({left:434.7,top:315,width:226.1,height:13},
  {min:0.5,max:12.5,vals:monthVals,noTick:true,margin:12,extra:{name:'Month',nameLocation:'middle',nameGap:29.5,nameTextStyle:nameStyle(14)}},{min:0,max:1},{lineColor:'#333',lineWidth:1.4});
series.push(Object.assign({type:'custom',silent:true,animation:false,clip:true,z:2,progressive:0,data:monthVals.map(m=>[m]),
  renderItem:(p,api)=>{const m=monthVals[p.dataIndex],cs=p.coordSys,a=api.coord([m-.5,0])[0],b=api.coord([m+.5,0])[0];return {type:'rect',shape:{x:a,y:cs.y,width:b-a,height:cs.height},style:{fill:PARULA[m-1]}};}},monAx));

// ---------- PANEL b ----------
const XMIN=5.55,XMAX=41.05;
const bAx=addGrid({left:91.5,top:418,width:513.5,height:136},{min:XMIN,max:XMAX,vals:monthTicks,labels:false},
  {min:0,max:2000,vals:distanceTicks,fmt:v=>String(v),extra:{name:'Distance to\nsea ice edge [km]',nameLocation:'middle',nameGap:41,nameRotate:90,nameTextStyle:nameStyle(15.5)}});
polyline(bAx,distance,{color:'#4a4a4a',width:1.7},5);

// ---------- PANELS c, d ----------
const depthAxis=nameGap=>({min:8,max:450,inverse:true,vals:depthTicks,extra:{name:'Depth [m]',nameLocation:'middle',nameGap:nameGap,nameRotate:90,nameTextStyle:nameStyle(16)}});
const cAx=addGrid({left:91.5,top:586,width:513.5,height:149},{min:XMIN,max:XMAX,vals:monthTicks,labels:false},depthAxis(32));
const dAx=addGrid({left:91.5,top:769,width:512.5,height:139},{min:XMIN,max:XMAX,vals:monthTicks,margin:5,lineHeight:16,
  fmt:v=>String((v-1)%12+1)+(yearOfMonthTick[v]?'\n'+yearOfMonthTick[v]:'')},depthAxis(32));
sectionSeries(cAx,tempColumns,tempColor);
sectionSeries(dAx,salColumns,salColor);
[cAx,dAx].forEach((ax,k)=>{
  [isoA,isoB,isoC,isoD,isoE,isoF].forEach(l=>polyline(ax,l,{color:'rgba(255,255,255,.72)',width:.8},4));
  series.push(Object.assign({type:'line',name:k?'MLD d':'MLD',data:mld,symbol:'none',silent:true,animation:false,connectNulls:false,itemStyle:{color:'#000'},lineStyle:{color:'#000',width:2},z:5},ax));
});
const tcAx=addGrid({left:618,top:586,width:13,height:149},{min:0,max:1},{min:T_RANGE[0],max:T_RANGE[1],vals:tempTicks,noTick:true,margin:6,extra:{name:'Temperature [°C]',nameLocation:'middle',nameGap:19.5,nameRotate:90,nameTextStyle:nameStyle(16.5)}},{yPos:'right',lineColor:'#777'});
stripSeries(tcAx,T_RANGE,false,v=>parula((v-T_RANGE[0])/(T_RANGE[1]-T_RANGE[0])));
const scAx=addGrid({left:617,top:770,width:13,height:143},{min:0,max:1},{min:S_RANGE[0],max:S_RANGE[1],vals:salTicks,noTick:true,margin:6,fmt:v=>String(v),extra:{name:'Salinity',nameLocation:'middle',nameGap:36,nameRotate:90,nameTextStyle:nameStyle(16)}},{yPos:'right',lineColor:'#777'});
stripSeries(scAx,S_RANGE,false,v=>parula((v-S_RANGE[0])/(S_RANGE[1]-S_RANGE[0])));

// panel letters
const letters=['a','b','c','d'], letterY=[10,403,583,761];
const chart=echarts.init(document.getElementById('c'),null,{renderer:'canvas'});
chart.setOption({
  animation:false,backgroundColor:'#fff',
  title:letters.map((t,i)=>({text:t,left:i===1?0:1,top:letterY[i]-13,padding:0,textStyle:{fontFamily:FONT,fontWeight:'bold',fontSize:23,color:'#000'}})),
  legend:{data:[{name:'MLD',icon:'rect'}],left:488,top:702,padding:[6,3,6,8],itemWidth:45,itemHeight:2,itemGap:0,backgroundColor:'#fff',borderColor:'#555',borderWidth:1,borderRadius:0,z:20,selectedMode:false,
    formatter:()=>'{a|MLD}{b|bio}',textStyle:{fontFamily:FONT,color:'#333',rich:{a:{fontSize:13,fontFamily:FONT,color:'#333'},b:{fontSize:10.5,fontFamily:FONT,color:'#333',padding:[8,0,0,0]}}}},
  tooltip:{show:false},grid:grids,xAxis:xAxes,yAxis:yAxes,series:series
});
</script></body></html>
